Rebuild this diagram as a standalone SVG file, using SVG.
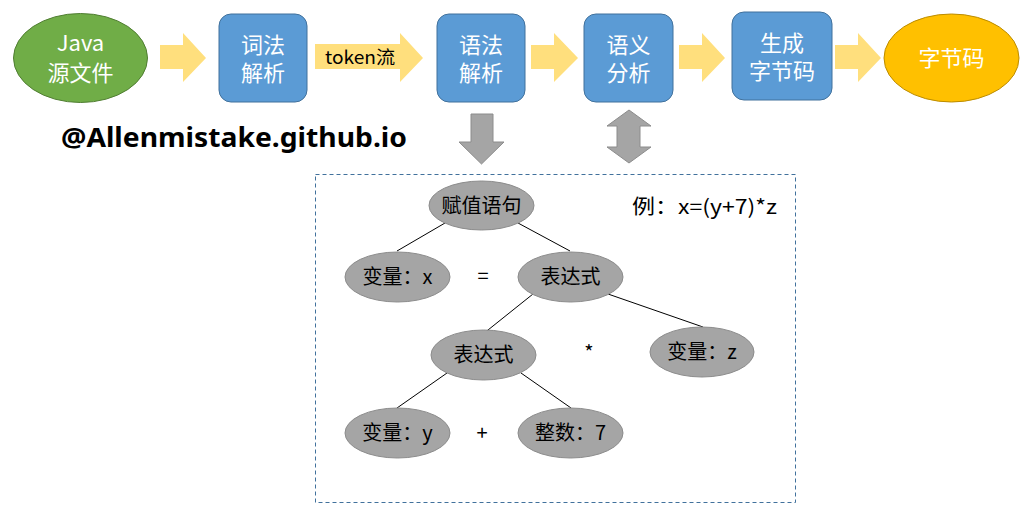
<svg xmlns="http://www.w3.org/2000/svg" width="1032" height="518" viewBox="0 0 1032 518">
<style>
.box{fill:#5B9BD5;stroke:#41719C;stroke-width:1}
.yarrow{fill:#FFD966;opacity:0.85}
.garrow{fill:#A5A5A5;stroke:#8C8C8C;stroke-width:1}
.tnode{fill:#A5A5A5;stroke:#8C8C8C;stroke-width:1}
.wt{font-family:"Noto Sans CJK SC","Noto Sans",sans-serif;font-size:22px;fill:#FFFFFF;text-anchor:middle}
.bt{font-family:"Noto Sans CJK SC","Noto Sans",sans-serif;font-size:20px;fill:#000000;text-anchor:middle}
.edge{stroke:#000000;stroke-width:1;fill:none}
</style>
<rect width="1032" height="518" fill="#FFFFFF"/>

<g id="pipeline-arrows">
<polygon class="yarrow" points="160,45 183,45 183,33 206,58 183,82 183,69 160,69"/>
<polygon class="yarrow" points="315,44 400,44 400,33 423,58 400,82 400,69 315,69"/>
<polygon class="yarrow" points="531,45 554,45 554,33 578,58 554,82 554,69 531,69"/>
<polygon class="yarrow" points="679,45 702,45 702,33 725,58 702,82 702,69 679,69"/>
<polygon class="yarrow" points="835,45 858,45 858,33 881,58 858,82 858,69 835,69"/>
<text x="325" y="64" font-family="'Noto Sans CJK SC','Noto Sans',sans-serif" font-size="18" fill="#000000" textLength="70" lengthAdjust="spacingAndGlyphs">token流</text>
<polygon class="garrow" points="471,114 493,114 493,142 504,142 481.5,164 459,142 471,142"/>
<polygon class="garrow" points="629,110 651,126 640,126 640,147 651,147 629,163 607,147 617,147 617,126 607,126"/>
</g>

<g id="java-src">
<ellipse cx="80.5" cy="58" rx="67" ry="44.5" fill="#70AD47" stroke="#507E32"/>
<text class="wt" x="80.5" y="51">Java</text>
<text class="wt" x="80.5" y="81">源文件</text>
</g>
<g id="lexer">
<rect class="box" x="219" y="14" width="88" height="88" rx="12"/>
<text class="wt" x="263" y="53">词法</text>
<text class="wt" x="263" y="81">解析</text>
</g>
<g id="parser">
<rect class="box" x="437" y="14" width="88" height="88" rx="12"/>
<text class="wt" x="481" y="53">语法</text>
<text class="wt" x="481" y="81">解析</text>
</g>
<g id="semantic">
<rect class="box" x="584" y="14" width="89" height="88" rx="12"/>
<text class="wt" x="628.5" y="53">语义</text>
<text class="wt" x="628.5" y="81">分析</text>
</g>
<g id="codegen">
<rect class="box" x="732" y="12" width="100" height="88" rx="12"/>
<text class="wt" x="782" y="51">生成</text>
<text class="wt" x="782" y="79">字节码</text>
</g>
<g id="bytecode">
<ellipse cx="951.5" cy="58" rx="67.5" ry="44" fill="#FFC000" stroke="#BC8C00"/>
<text class="wt" x="951.5" y="66">字节码</text>
</g>

<text x="61" y="147" font-family="'Noto Sans','Liberation Sans',sans-serif" font-weight="bold" font-size="27" fill="#000000" textLength="346" lengthAdjust="spacingAndGlyphs">@Allenmistake.github.io</text>

<rect x="315.5" y="174.5" width="480" height="328" fill="none" stroke="#41719C" stroke-width="1" stroke-dasharray="4,3"/>

<g id="tree-edges">
<line class="edge" x1="445" y1="223" x2="397" y2="251"/>
<line class="edge" x1="518" y1="223" x2="570" y2="251"/>
<line class="edge" x1="533" y1="294" x2="483" y2="334"/>
<line class="edge" x1="608" y1="294" x2="703" y2="327"/>
<line class="edge" x1="447" y1="373" x2="397" y2="408"/>
<line class="edge" x1="521" y1="373" x2="571" y2="408"/>
</g>

<g id="assign">
<ellipse class="tnode" cx="481.5" cy="205.5" rx="52.5" ry="24.5"/>
<text class="bt" x="481.5" y="213">赋值语句</text>
</g>
<g id="var-x">
<ellipse class="tnode" cx="397.5" cy="277" rx="52.5" ry="25"/>
<text class="bt" x="397.5" y="284">变量：x</text>
</g>
<g id="expr1">
<ellipse class="tnode" cx="570.5" cy="277" rx="52.5" ry="25"/>
<text class="bt" x="570.5" y="284" font-size="21">表达式</text>
</g>
<g id="expr2">
<ellipse class="tnode" cx="483.5" cy="355" rx="52.5" ry="25"/>
<text class="bt" x="483.5" y="362" font-size="21">表达式</text>
</g>
<g id="var-z">
<ellipse class="tnode" cx="702" cy="352" rx="52" ry="25"/>
<text class="bt" x="702" y="359">变量：z</text>
</g>
<g id="var-y">
<ellipse class="tnode" cx="397.5" cy="433" rx="52.5" ry="25"/>
<text class="bt" x="397.5" y="440">变量：y</text>
</g>
<g id="int-7">
<ellipse class="tnode" cx="570.5" cy="433" rx="52.5" ry="25"/>
<text class="bt" x="570.5" y="440">整数：7</text>
</g>

<text class="bt" x="483" y="283">=</text>
<text class="bt" x="589" y="360">*</text>
<text class="bt" x="482" y="440">+</text>
<text x="632" y="214" font-family="'Noto Sans CJK SC','Noto Sans',sans-serif" font-size="20" fill="#000000" textLength="145" lengthAdjust="spacingAndGlyphs">例：x=(y+7)*z</text>
</svg>
